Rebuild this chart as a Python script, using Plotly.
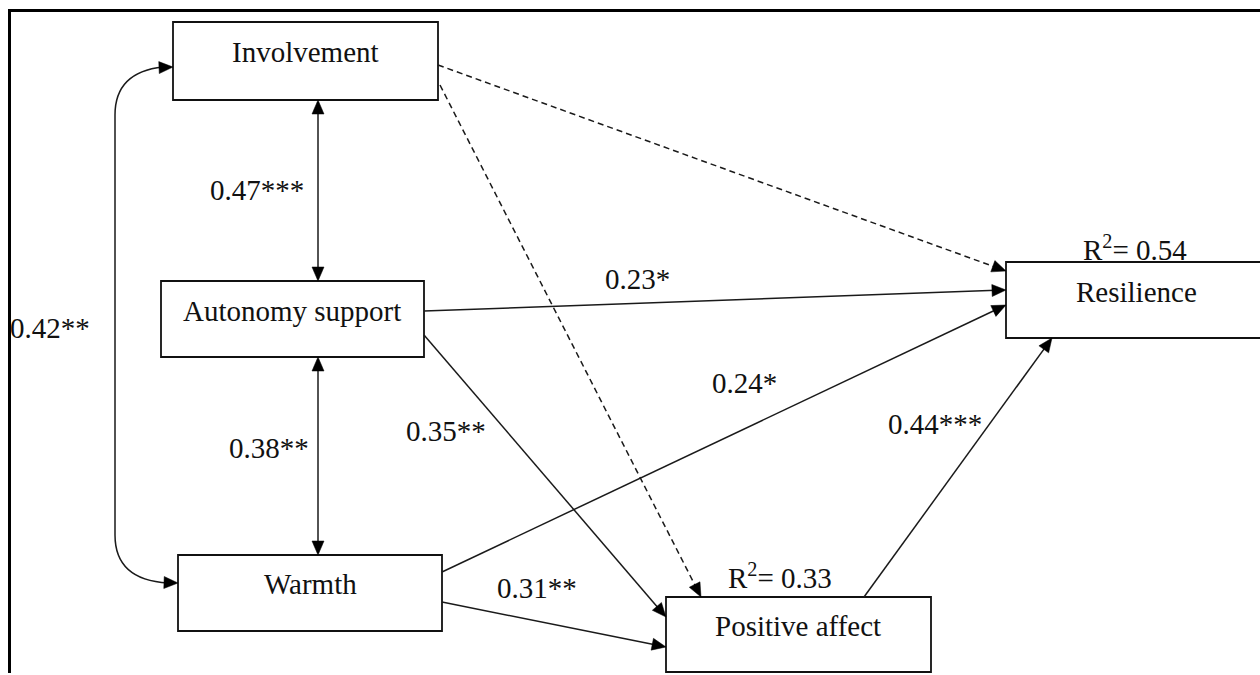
import math
import plotly.graph_objects as go

# ---------------- data ----------------
nodes = ["Involvement", "Autonomy support", "Warmth", "Positive affect", "Resilience"]

# directed paths (regressions)
path_from = ["Involvement", "Involvement", "Autonomy support", "Autonomy support",
             "Warmth", "Warmth", "Positive affect"]
path_to = ["Resilience", "Positive affect", "Resilience", "Positive affect",
           "Resilience", "Positive affect", "Resilience"]
path_coef = [None, None, 0.23, 0.35, 0.24, 0.31, 0.44]
path_stars = ["", "", "*", "**", "*", "**", "***"]

# covariances (double-headed)
cov_a = ["Involvement", "Autonomy support", "Involvement"]
cov_b = ["Autonomy support", "Warmth", "Warmth"]
cov_coef = [0.47, 0.38, 0.42]
cov_stars = ["***", "**", "**"]

# explained variance
r2_nodes = ["Positive affect", "Resilience"]
r2_values = [0.33, 0.54]

# ---------------- layout geometry (pixels) ----------------
W, H = 1260, 675
box = {
    "Involvement": (173, 22, 438, 100),
    "Autonomy support": (161, 281, 424, 357),
    "Warmth": (178, 555, 442, 631),
    "Positive affect": (666, 597, 931, 672),
    "Resilience": (1006, 262, 1275, 338),
}
box_text = {
    "Involvement": (305, 52),
    "Autonomy support": (292, 311),
    "Warmth": (310, 584),
    "Positive affect": (798, 626),
    "Resilience": (1136, 292),
}
path_geom = [
    ((438, 65), (1006, 271)),
    ((440, 85), (701, 597)),
    ((424, 311), (1006, 290)),
    ((424, 335), (666, 617)),
    ((442, 572), (1006, 305)),
    ((442, 602), (666, 647)),
    ((864, 597), (1052, 338)),
]
path_label_pos = [None, None, (637, 279), (446, 431), (744, 383), (537, 588), (935, 424)]
cov_geom = [((318, 100), (318, 281)), ((318, 357), (318, 555)), None]
cov_label_pos = [(257, 190), (269, 448), (50, 328)]
r2_label_pos = {"Positive affect": (780, 576), "Resilience": (1135, 248)}

FONT = "Liberation Serif, Times New Roman, serif"
FS = 29
LINE = "#1a1a1a"

shapes = []
annotations = []


def arrowhead(tip, frm, length=14, half=6):
    dx, dy = tip[0] - frm[0], tip[1] - frm[1]
    d = math.hypot(dx, dy)
    ux, uy = dx / d, dy / d
    bx, by = tip[0] - ux * length, tip[1] - uy * length
    px, py = -uy, ux
    p1 = (bx + px * half, by + py * half)
    p2 = (bx - px * half, by - py * half)
    return dict(type="path", xref="x", yref="y",
                path=f"M {tip[0]} {tip[1]} L {p1[0]:.2f} {p1[1]:.2f} L {p2[0]:.2f} {p2[1]:.2f} Z",
                fillcolor="black", line=dict(color="black", width=0.5))


def seg(p, q, dash="solid", shorten=10):
    dx, dy = q[0] - p[0], q[1] - p[1]
    d = math.hypot(dx, dy)
    qx, qy = q[0] - dx / d * shorten, q[1] - dy / d * shorten
    return dict(type="line", xref="x", yref="y", x0=p[0], y0=p[1], x1=qx, y1=qy,
                line=dict(color=LINE, width=1.5, dash=dash))


# frame
shapes.append(dict(type="line", xref="x", yref="y", x0=8, y0=10.5, x1=W, y1=10.5,
                   line=dict(color="black", width=3)))
shapes.append(dict(type="line", xref="x", yref="y", x0=9.5, y0=9, x1=9.5, y1=673,
                   line=dict(color="black", width=3)))

# boxes
for n in nodes:
    x0, y0, x1, y1 = box[n]
    shapes.append(dict(type="rect", xref="x", yref="y", x0=x0, y0=y0, x1=x1, y1=y1,
                       line=dict(color="#111111", width=1.8), fillcolor="rgba(0,0,0,0)"))
    tx, ty = box_text[n]
    annotations.append(dict(x=tx, y=ty, xref="x", yref="y", text=n, showarrow=False,
                            font=dict(family=FONT, size=FS, color="#111111"),
                            xanchor="center", yanchor="middle"))

# directed paths
for i in range(len(path_from)):
    p, q = path_geom[i]
    sig = path_coef[i] is not None
    shapes.append(seg(p, q, dash="solid" if sig else "6px,4px"))
    shapes.append(arrowhead(q, p))
    if sig:
        lx, ly = path_label_pos[i]
        annotations.append(dict(x=lx, y=ly, xref="x", yref="y",
                                text=f"{path_coef[i]:.2f}{path_stars[i]}", showarrow=False,
                                font=dict(family=FONT, size=FS, color="#111111"),
                                xanchor="center", yanchor="middle"))

# covariances
for i in range(len(cov_a)):
    g = cov_geom[i]
    if g is not None:
        p, q = g
        shapes.append(dict(type="line", xref="x", yref="y", x0=p[0], y0=p[1] + 10,
                           x1=q[0], y1=q[1] - 10, line=dict(color=LINE, width=1.5)))
        shapes.append(arrowhead(p, q))
        shapes.append(arrowhead(q, p))
    else:
        top = (173, 67)
        bot = (178, 583)
        shapes.append(dict(type="path", xref="x", yref="y",
                           path="M 163 67 Q 115 72 115 115 L 115 535 Q 115 580 168 583",
                           line=dict(color=LINE, width=1.5)))
        shapes.append(arrowhead(top, (150, 68)))
        shapes.append(arrowhead(bot, (150, 582)))
    lx, ly = cov_label_pos[i]
    annotations.append(dict(x=lx, y=ly, xref="x", yref="y",
                            text=f"{cov_coef[i]:.2f}{cov_stars[i]}", showarrow=False,
                            font=dict(family=FONT, size=FS, color="#111111"),
                            xanchor="center", yanchor="middle"))

# R squared
for n, v in zip(r2_nodes, r2_values):
    lx, ly = r2_label_pos[n]
    annotations.append(dict(x=lx, y=ly, xref="x", yref="y",
                            text=f"R<sup>2</sup>= {v:.2f}", showarrow=False,
                            font=dict(family=FONT, size=FS, color="#111111"),
                            xanchor="center", yanchor="middle"))

fig = go.Figure()
fig.add_trace(go.Scatter(x=[0, W], y=[0, H], mode="markers",
                         marker=dict(opacity=0), hoverinfo="skip", showlegend=False))
fig.update_layout(
    width=W, height=H, margin=dict(l=0, r=0, t=0, b=0),
    paper_bgcolor="white", plot_bgcolor="white",
    xaxis=dict(range=[0, W], visible=False, fixedrange=True),
    yaxis=dict(range=[H, 0], visible=False, fixedrange=True),
    shapes=shapes, annotations=annotations, showlegend=False,
)
fig.write_html("out.html", config={"displayModeBar": False},
               post_script="document.body.style.margin='0px';document.body.style.overflow='hidden';")
